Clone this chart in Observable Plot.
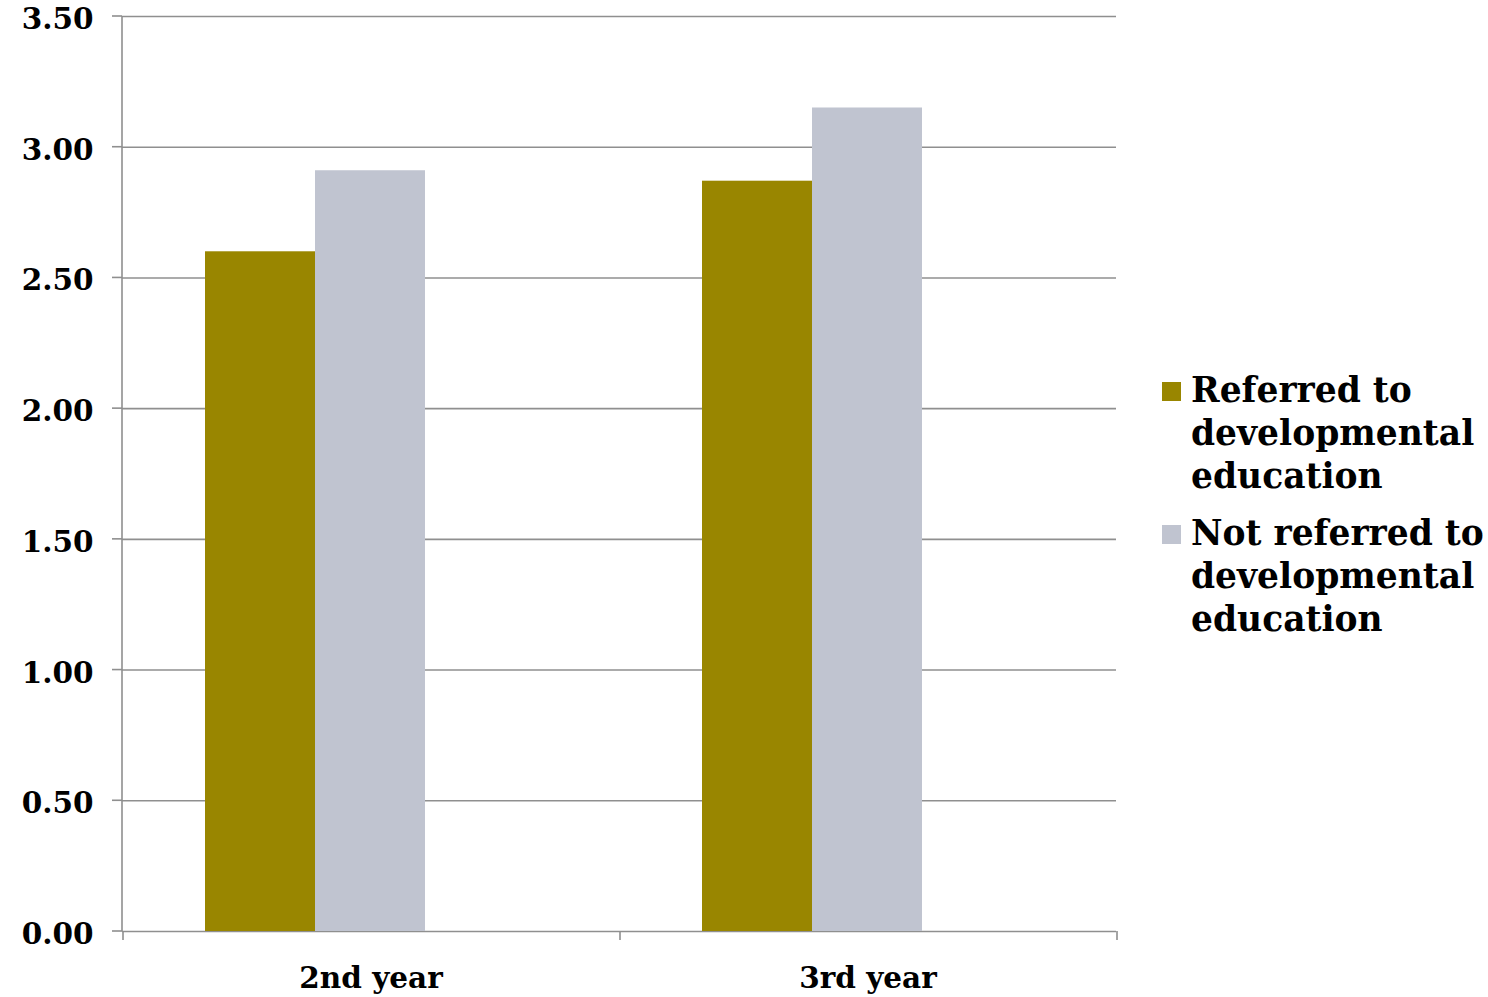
<!DOCTYPE html>
<html><head><meta charset="utf-8">
<script src="https://cdn.jsdelivr.net/npm/d3@7"></script>
<script src="https://cdn.jsdelivr.net/npm/@observablehq/plot@0.6"></script>
<style>
body{margin:0;background:#fff;}
#wrap{position:relative;width:1488px;height:997px;overflow:hidden;}
#legend{position:absolute;left:1162px;top:369px;font-family:"DejaVu Serif",serif;font-weight:bold;font-size:34.5px;line-height:43px;color:#000;}
.item{display:flex;align-items:flex-start;margin-bottom:14px;}
.sw{width:19px;height:19px;margin-top:13px;margin-right:10px;flex:none;}
.lines div{white-space:nowrap;}
</style></head><body><div id="wrap"><div id="chart"></div><div id="legend"></div></div>
<script>
const years = ["2nd year", "3rd year"];
const series = ["Referred to developmental education", "Not referred to developmental education"];
const legendLines = [["Referred to", "developmental", "education"], ["Not referred to", "developmental", "education"]];
const referred = [2.60, 2.87];
const notReferred = [2.91, 3.15];
const colors = ["#998600", "#c0c4d0"];
const yTicks = [0, 0.5, 1, 1.5, 2, 2.5, 3, 3.5];

const data = years.flatMap((yr, i) => [
  {year: yr, series: series[0], value: referred[i]},
  {year: yr, series: series[1], value: notReferred[i]}
]);

const lineColor = "#8f8f8f";

function axisFrame(index, scales, values, dims) {
  const {y, fx} = scales;
  const g = d3.create("svg:g").attr("class", "axis-frame").attr("stroke", lineColor).attr("stroke-width", 1.6);
  const left = dims.marginLeft, right = dims.width - dims.marginRight;
  const y0 = y(0), yTop = y(d3.max(yTicks));
  g.append("line").attr("x1", left).attr("x2", left).attr("y1", yTop).attr("y2", y0);
  for (const t of yTicks) g.append("line").attr("x1", left - 10).attr("x2", left).attr("y1", y(t)).attr("y2", y(t));
  let bounds;
  if (fx && fx.bandwidth) bounds = [...years.map(d => fx(d)), fx(years[years.length - 1]) + fx.bandwidth()];
  else bounds = [left, (left + right) / 2, right];
  for (const b of bounds) g.append("line").attr("x1", b).attr("x2", b).attr("y1", y0).attr("y2", y0 + 9);
  return g.node();
}

const chart = Plot.plot({
  width: 1150,
  height: 997,
  marginLeft: 121,
  marginRight: 34,
  marginTop: 16,
  marginBottom: 66,
  style: {fontFamily: "DejaVu Serif", fontSize: "29.5px", fontWeight: "bold", color: "#000", background: "#fff", overflow: "visible"},
  facet: {data, x: "year"},
  fx: {domain: years, padding: 0, label: null, tickSize: 0, tickPadding: 36, axis: "bottom"},
  x: {domain: series, paddingInner: 0, paddingOuter: 1.25, align: 0.3, axis: null},
  y: {domain: [0, 3.5], ticks: yTicks, tickFormat: d3.format(".2f"), tickSize: 0, tickPadding: 29, label: null},
  color: {domain: series, range: colors},
  marks: [
    Plot.ruleY(yTicks, {stroke: lineColor, strokeWidth: 1.6}),
    Plot.barY(data, {x: "series", y: "value", fill: "series"}),
    axisFrame
  ]
});
// the frame mark may be drawn once per facet; keep only the first copy (drawn in absolute coordinates)
const frames = chart.querySelectorAll(".axis-frame");
frames.forEach((f, i) => { if (i > 0) f.remove(); });
// nudge the y tick labels down slightly, as in the reference
chart.querySelectorAll('[aria-label^="y-axis"] text').forEach(t => {
  t.setAttribute("transform", ((t.getAttribute("transform") || "") + " translate(0,3)").trim());
});
document.getElementById("chart").appendChild(chart);

const legend = d3.select("#legend");
series.forEach((s, i) => {
  const item = legend.append("div").attr("class", "item");
  item.append("div").attr("class", "sw").style("background", colors[i]);
  const l = item.append("div").attr("class", "lines");
  legendLines[i].forEach(t => l.append("div").text(t));
});
</script>
</body></html>
